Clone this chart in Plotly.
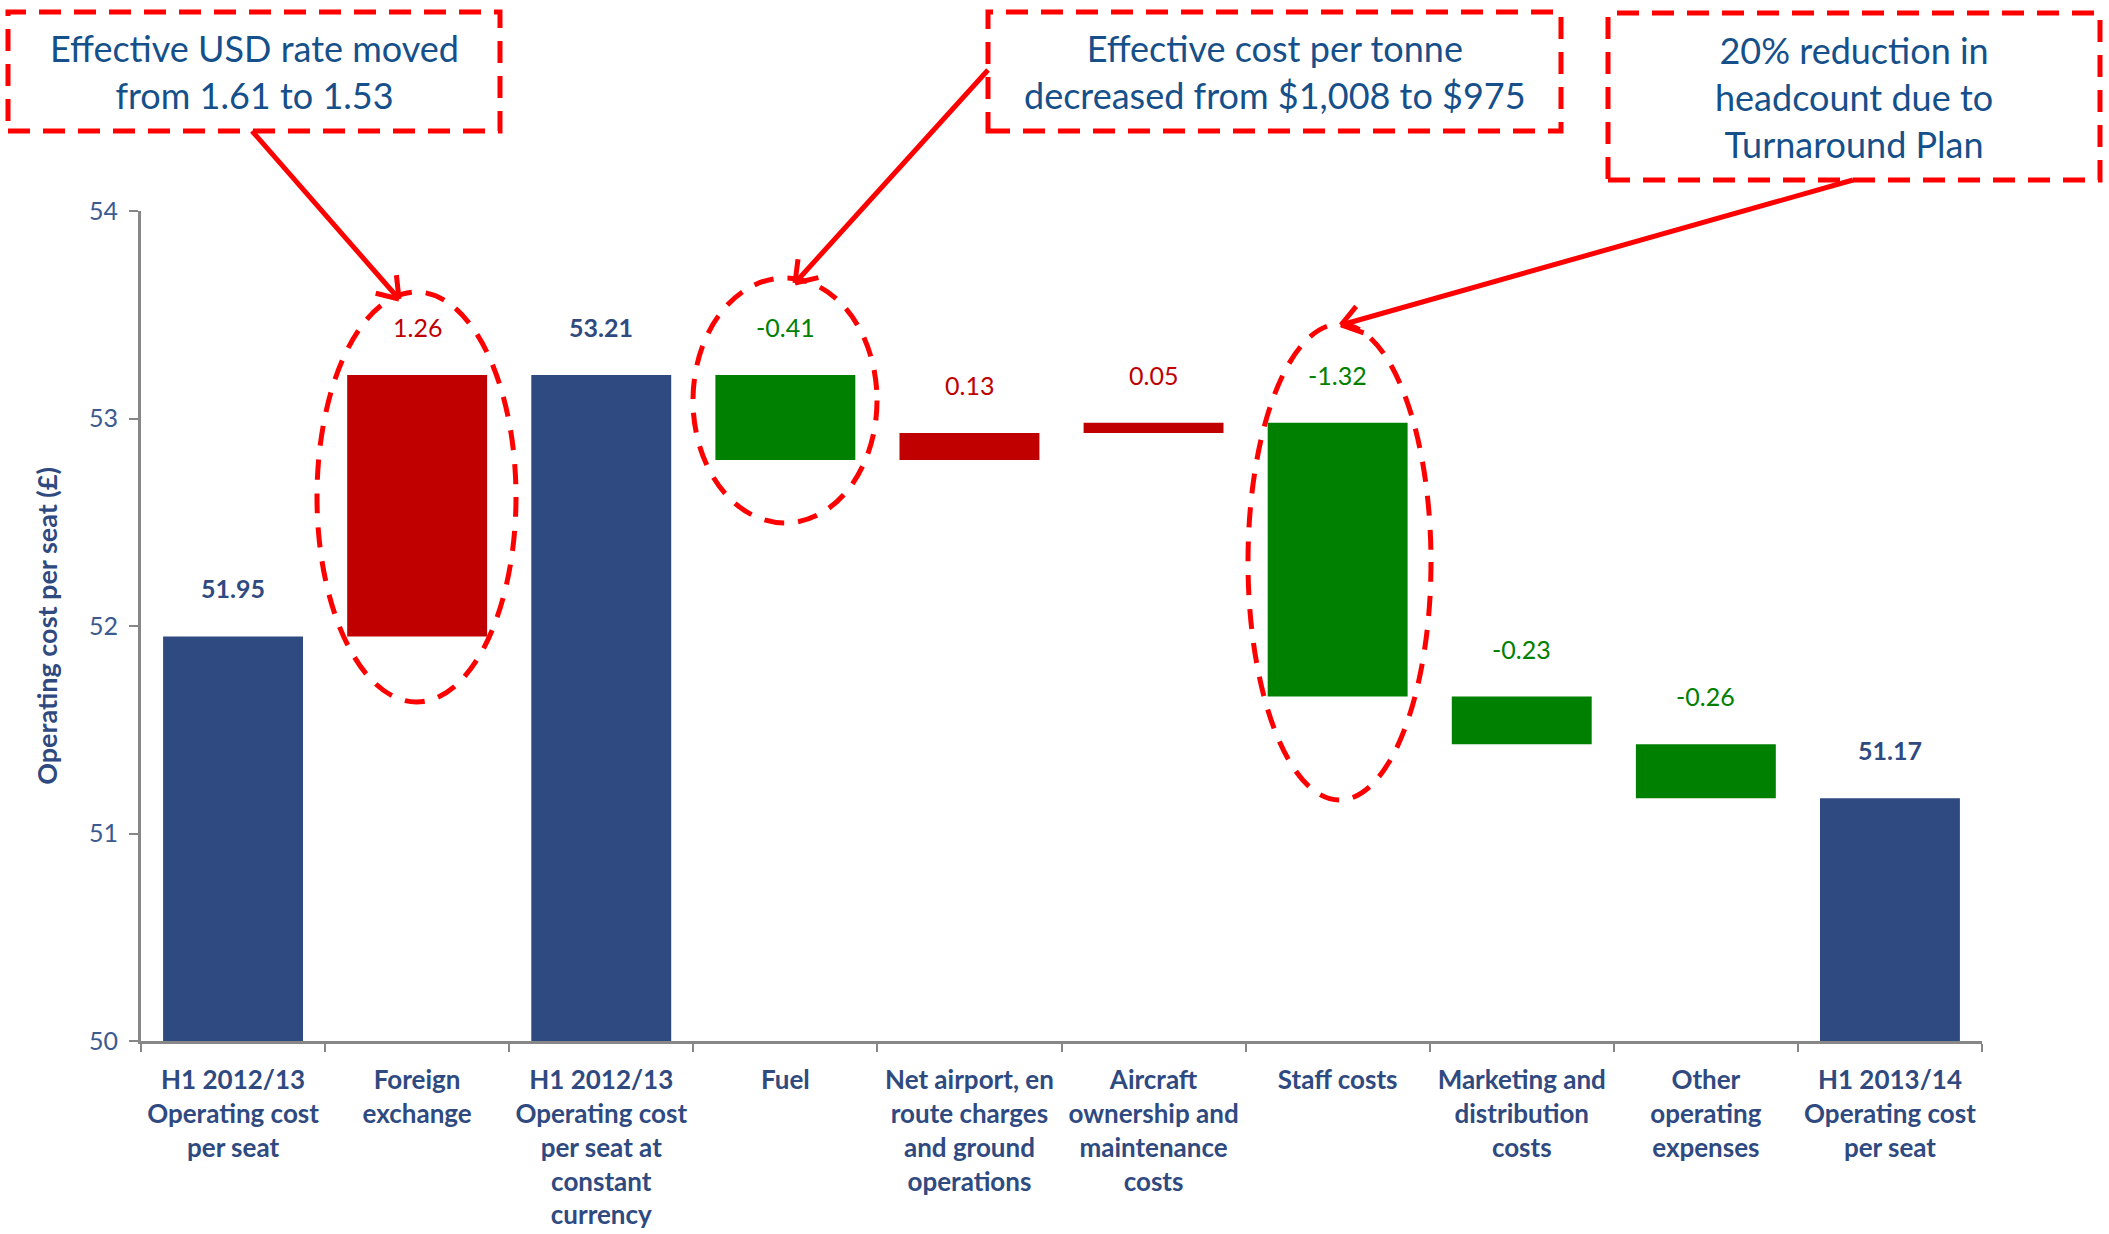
import math
import plotly.graph_objects as go

# ---------------- data ----------------
cat_keys = ["open", "fx", "const", "fuel", "airport", "aircraft", "staff", "marketing", "other", "close"]
tick_labels = [
    "H1 2012/13<br>Operating cost<br>per seat",
    "Foreign<br>exchange",
    "H1 2012/13<br>Operating cost<br>per seat at<br>constant<br>currency",
    "Fuel",
    "Net airport, en<br>route charges<br>and ground<br>operations",
    "Aircraft<br>ownership and<br>maintenance<br>costs",
    "Staff costs",
    "Marketing and<br>distribution<br>costs",
    "Other<br>operating<br>expenses",
    "H1 2013/14<br>Operating cost<br>per seat",
]
measures = ["absolute", "relative", "total", "relative", "relative", "relative",
            "relative", "relative", "relative", "total"]
values = [51.95, 1.26, 53.21, -0.41, 0.13, 0.05, -1.32, -0.23, -0.26, 51.17]

callout_texts = [
    "Effective USD rate moved<br>from 1.61 to 1.53",
    "Effective cost per tonne<br>decreased from $1,008 to $975",
    "20% reduction in<br>headcount due to<br>Turnaround Plan",
]
y_title = "Operating cost per seat (£)"

# ---------------- styles ----------------
NAVY = "#2F4A80"
RED = "#C00000"
GREEN = "#008000"
CALLOUT_RED = "#FF0000"
CALLOUT_TEXT = "#16508A"
AXIS_GREY = "#878787"
FONT = "Lato"

W, H = 2109, 1234
L, R, T, B = 141, 127, 211, 193
PW, PH = W - L - R, H - T - B


def px(x):
    return (x - L) / PW


def py(y):
    return (H - B - y) / PH


fig = go.Figure()
fig.add_trace(go.Waterfall(
    x=cat_keys,
    y=values,
    measure=measures,
    width=0.76,
    increasing=dict(marker=dict(color=RED)),
    decreasing=dict(marker=dict(color=GREEN)),
    totals=dict(marker=dict(color=NAVY)),
    connector=dict(visible=False),
    textinfo="none",
    hoverinfo="skip",
))

# data labels above each bar
running = 0.0
for key, m, v in zip(cat_keys, measures, values):
    if m == "absolute":
        running = v
        top = v
        txt, col, bold = f"{v:.2f}", NAVY, True
    elif m == "total":
        top = running
        txt, col, bold = f"{running:.2f}", NAVY, True
    else:
        start = running
        running = running + v
        top = max(start, running)
        txt = f"{v:.2f}"
        col = RED if v > 0 else GREEN
        bold = False
    fig.add_annotation(
        x=key, y=top, xref="x", yref="y", text=f"<b>{txt}</b>" if bold else txt,
        showarrow=False, yshift=48, yanchor="middle",
        font=dict(family=FONT, size=25, color=col),
    )

shapes = []
# callout boxes (pixel rectangles)
boxes = [(8, 12, 500, 131), (988, 12, 1561, 131), (1608, 13, 2100, 180)]
for (x0, y0, x1, y1), txt in zip(boxes, callout_texts):
    shapes.append(dict(type="rect", xref="paper", yref="paper",
                       x0=px(x0), x1=px(x1), y0=py(y1), y1=py(y0),
                       line=dict(color=CALLOUT_RED, width=5, dash="22px,13px")))
    fig.add_annotation(xref="paper", yref="paper", x=px((x0 + x1) / 2), y=py((y0 + y1) / 2),
                       text=txt, showarrow=False, xanchor="center", yanchor="middle",
                       font=dict(family=FONT, size=36, color=CALLOUT_TEXT))

# dashed ellipses
ellipses = [(317, 292, 516, 702), (693, 278, 877, 523), (1248, 324, 1431, 800)]
for (x0, y0, x1, y1) in ellipses:
    shapes.append(dict(type="circle", xref="paper", yref="paper",
                       x0=px(x0), x1=px(x1), y0=py(y1), y1=py(y0),
                       line=dict(color=CALLOUT_RED, width=5, dash="20px,14px")))

# arrows: line + open V head
arrows = [((252, 131), (399, 299)), ((988, 70), (795, 283)), ((1853, 180), (1341, 325))]
for (sx, sy), (tx, ty) in arrows:
    shapes.append(dict(type="line", xref="paper", yref="paper",
                       x0=px(sx), y0=py(sy), x1=px(tx), y1=py(ty),
                       line=dict(color=CALLOUT_RED, width=5)))
    dx, dy = sx - tx, sy - ty
    n = math.hypot(dx, dy)
    dx, dy = dx / n, dy / n
    for ang in (math.radians(35), -math.radians(35)):
        ax = dx * math.cos(ang) - dy * math.sin(ang)
        ay = dx * math.sin(ang) + dy * math.cos(ang)
        shapes.append(dict(type="line", xref="paper", yref="paper",
                           x0=px(tx), y0=py(ty), x1=px(tx + 24 * ax), y1=py(ty + 24 * ay),
                           line=dict(color=CALLOUT_RED, width=5)))

fig.update_layout(
    width=W, height=H,
    margin=dict(l=L, r=R, t=T, b=B, pad=0),
    paper_bgcolor="white", plot_bgcolor="white",
    showlegend=False,
    shapes=shapes,
    font=dict(family=FONT),
)
fig.update_xaxes(
    type="category", automargin=False,
    tickvals=cat_keys, ticktext=[f"<b>{t}</b>" for t in tick_labels],
    tickfont=dict(family=FONT, size=26, color=NAVY),
    showline=True, linecolor=AXIS_GREY, linewidth=3,
    ticks="outside", tickson="boundaries", ticklen=8, tickwidth=2, tickcolor=AXIS_GREY,
    ticklabelstandoff=14,
    showgrid=False, zeroline=False,
)
fig.update_yaxes(
    range=[50, 54], dtick=1, tick0=50, automargin=False,
    tickfont=dict(family=FONT, size=25, color="#3B5A8F"),
    showline=True, linecolor=AXIS_GREY, linewidth=3,
    ticks="outside", ticklen=9, tickwidth=2, tickcolor=AXIS_GREY,
    ticklabelstandoff=6,
    showgrid=False, zeroline=False,
    title=dict(text=f"<b>{y_title}</b>", font=dict(family=FONT, size=27, color=NAVY), standoff=24),
)

fig.write_html("out.html")
